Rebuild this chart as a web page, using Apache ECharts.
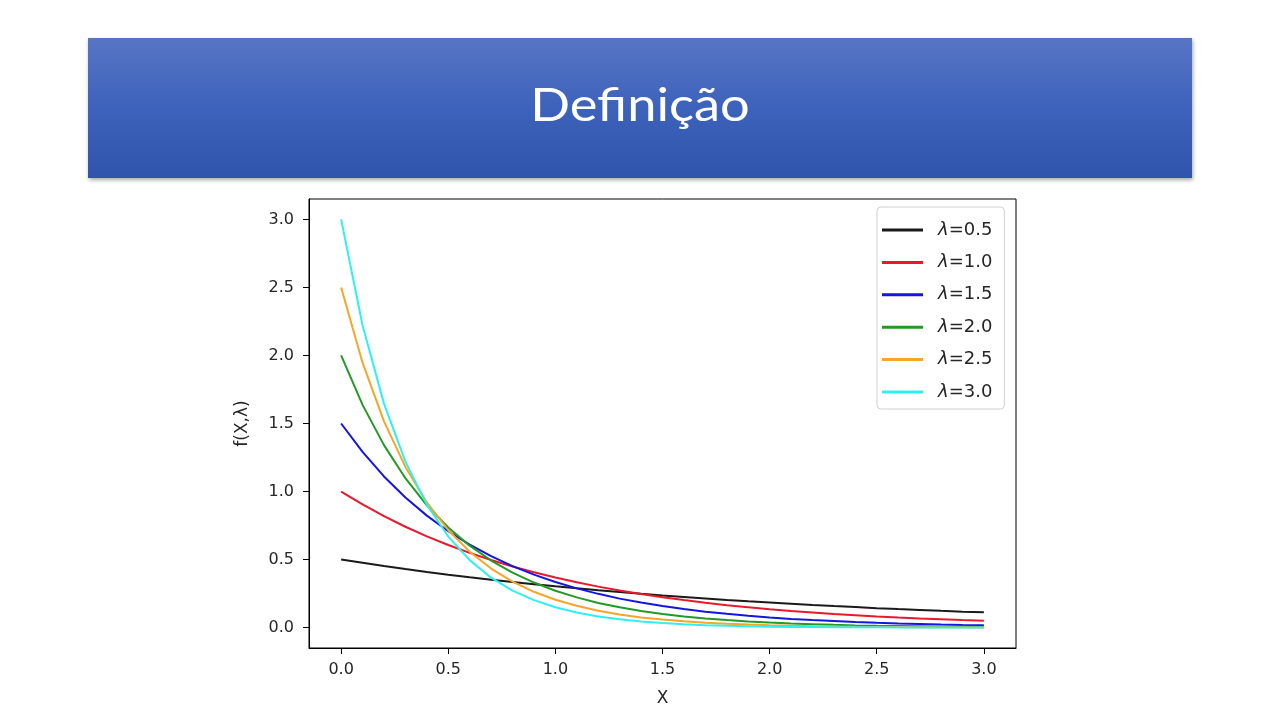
<!DOCTYPE html>
<html lang="pt">
<head>
	<meta charset="utf-8">
	<title>Definição</title>
	<script src="https://cdn.jsdelivr.net/npm/echarts@6/dist/echarts.min.js"></script>
</head>
<body style="margin:0; background:#fff">
<div id="container" style="width:1280px; height:720px"></div>
<script type="text/javascript">

	// valores (x de 0 a 3, passo 0.1)
	var xs = [0.0, 0.1, 0.2, 0.3, 0.4, 0.5, 0.6, 0.7, 0.8, 0.9, 1.0, 1.1, 1.2, 1.3, 1.4, 1.5,
		1.6, 1.7, 1.8, 1.9, 2.0, 2.1, 2.2, 2.3, 2.4, 2.5, 2.6, 2.7, 2.8, 2.9, 3.0];

	var seriesNames = ['λ=0.5', 'λ=1.0', 'λ=1.5', 'λ=2.0', 'λ=2.5', 'λ=3.0'];
	var seriesColors = ['#1a1a1a', '#e8192c', '#1515e0', '#239a23', '#f5a52a', '#2ef0f0'];

	var lam05 = [0.500, 0.476, 0.452, 0.430, 0.409, 0.389, 0.370, 0.352, 0.335, 0.319, 0.303,
		0.289, 0.274, 0.261, 0.248, 0.236, 0.225, 0.214, 0.203, 0.193, 0.184,
		0.175, 0.166, 0.158, 0.151, 0.143, 0.136, 0.130, 0.123, 0.117, 0.112];
	var lam10 = [1.000, 0.905, 0.819, 0.741, 0.670, 0.607, 0.549, 0.497, 0.449, 0.407, 0.368,
		0.333, 0.301, 0.273, 0.247, 0.223, 0.202, 0.183, 0.165, 0.150, 0.135,
		0.122, 0.111, 0.100, 0.091, 0.082, 0.074, 0.067, 0.061, 0.055, 0.050];
	var lam15 = [1.500, 1.291, 1.111, 0.956, 0.823, 0.708, 0.610, 0.525, 0.452, 0.389, 0.335,
		0.288, 0.248, 0.213, 0.184, 0.158, 0.136, 0.117, 0.101, 0.087, 0.075,
		0.064, 0.055, 0.048, 0.041, 0.035, 0.030, 0.026, 0.022, 0.019, 0.017];
	var lam20 = [2.000, 1.637, 1.341, 1.098, 0.899, 0.736, 0.602, 0.493, 0.404, 0.331, 0.271,
		0.222, 0.181, 0.149, 0.122, 0.100, 0.082, 0.067, 0.055, 0.045, 0.037,
		0.030, 0.025, 0.020, 0.016, 0.013, 0.011, 0.009, 0.007, 0.006, 0.005];
	var lam25 = [2.500, 1.947, 1.516, 1.181, 0.920, 0.716, 0.558, 0.434, 0.338, 0.263, 0.205,
		0.160, 0.124, 0.097, 0.075, 0.059, 0.046, 0.036, 0.028, 0.022, 0.017,
		0.013, 0.010, 0.008, 0.006, 0.005, 0.004, 0.003, 0.002, 0.002, 0.001];
	var lam30 = [3.000, 2.222, 1.646, 1.220, 0.904, 0.669, 0.496, 0.367, 0.272, 0.202, 0.149,
		0.111, 0.082, 0.061, 0.045, 0.033, 0.025, 0.018, 0.014, 0.010, 0.007,
		0.005, 0.004, 0.003, 0.002, 0.002, 0.001, 0.001, 0.001, 0.000, 0.000];

	var tickValues = [0.0, 0.5, 1.0, 1.5, 2.0, 2.5, 3.0];

	var allValues = [lam05, lam10, lam15, lam20, lam25, lam30];

	var dom = document.getElementById('container');
	var myChart = echarts.init(dom, null, { renderer: 'canvas' });

	var series = [];
	for (var s = 0; s < seriesNames.length; s++) {
		var pts = [];
		for (var i = 0; i < xs.length; i++) {
			pts.push([xs[i], allValues[s][i]]);
		}
		series.push({
			name: seriesNames[s],
			type: 'line',
			data: pts,
			showSymbol: false,
			symbol: 'none',
			lineStyle: { width: 2, color: seriesColors[s] },
			itemStyle: { color: seriesColors[s] },
			animation: false
		});
	}

	var tickFont = { fontFamily: 'DejaVu Sans', fontSize: 16, color: '#262626' };

	var option = {
		animation: false,
		graphic: [
			{
				type: 'rect',
				z: -1,
				shape: { x: 88, y: 38, width: 1104, height: 140 },
				style: {
					fill: new echarts.graphic.LinearGradient(0, 0, 0, 1, [
						{ offset: 0, color: '#5775c4' },
						{ offset: 0.5, color: '#3d62bb' },
						{ offset: 1, color: '#2e54ab' }
					]),
					shadowBlur: 4,
					shadowOffsetX: 1,
					shadowOffsetY: 2,
					shadowColor: 'rgba(0,0,0,0.35)'
				}
			},
			{
				// título um pouco esticado na horizontal, como no slide
				type: 'text',
				x: 640,
				y: 106,
				scaleX: 1.14,
				style: {
					text: 'Definição',
					fill: '#fff',
					font: '46px Lato',
					align: 'center',
					verticalAlign: 'middle'
				}
			}
		],
		grid: {
			left: 309, top: 199, width: 707, height: 449,
			show: true, borderColor: '#000', borderWidth: 1
		},
		legend: {
			orient: 'vertical',
			left: 877,
			top: 207,
			padding: [14, 12, 8, 5],
			itemWidth: 41,
			itemHeight: 3,
			itemGap: 14.4,
			icon: 'rect',
			backgroundColor: '#fff',
			borderColor: '#d0d0d0',
			borderWidth: 1,
			borderRadius: 4,
			data: seriesNames,
			formatter: function (name) {
				return '{l|λ}' + name.slice(1);
			},
			textStyle: {
				fontFamily: 'DejaVu Sans',
				fontSize: 18,
				color: '#262626',
				padding: [0, 0, 0, 10],
				rich: {
					l: { fontFamily: 'DejaVu Sans', fontSize: 18, fontStyle: 'italic', color: '#262626' }
				}
			}
		},
		xAxis: {
			type: 'value',
			min: -0.15,
			max: 3.15,
			name: 'X',
			nameLocation: 'middle',
			nameGap: 42,
			nameTextStyle: { fontFamily: 'DejaVu Sans', fontSize: 17, color: '#262626' },
			axisLine: { show: true, onZero: false, lineStyle: { color: '#000' } },
			axisTick: { show: true, length: 6, inside: false, customValues: tickValues, lineStyle: { color: '#000' } },
			axisLabel: Object.assign({ margin: 14, customValues: tickValues,
				formatter: function (v) { return v.toFixed(1); } }, tickFont),
			splitLine: { show: false }
		},
		yAxis: {
			type: 'value',
			min: -0.15,
			max: 3.15,
			name: 'f(X,λ)',
			nameLocation: 'middle',
			nameGap: 58,
			nameRotate: 90,
			nameTextStyle: { fontFamily: 'DejaVu Sans', fontSize: 17, color: '#262626' },
			axisLine: { show: true, onZero: false, lineStyle: { color: '#000' } },
			axisTick: { show: true, length: 6, inside: false, customValues: tickValues, lineStyle: { color: '#000' } },
			axisLabel: Object.assign({ margin: 15, customValues: tickValues,
				formatter: function (v) { return v.toFixed(1); } }, tickFont),
			splitLine: { show: false }
		},
		series: series
	};

	myChart.setOption(option);

</script>
</body>
</html>
